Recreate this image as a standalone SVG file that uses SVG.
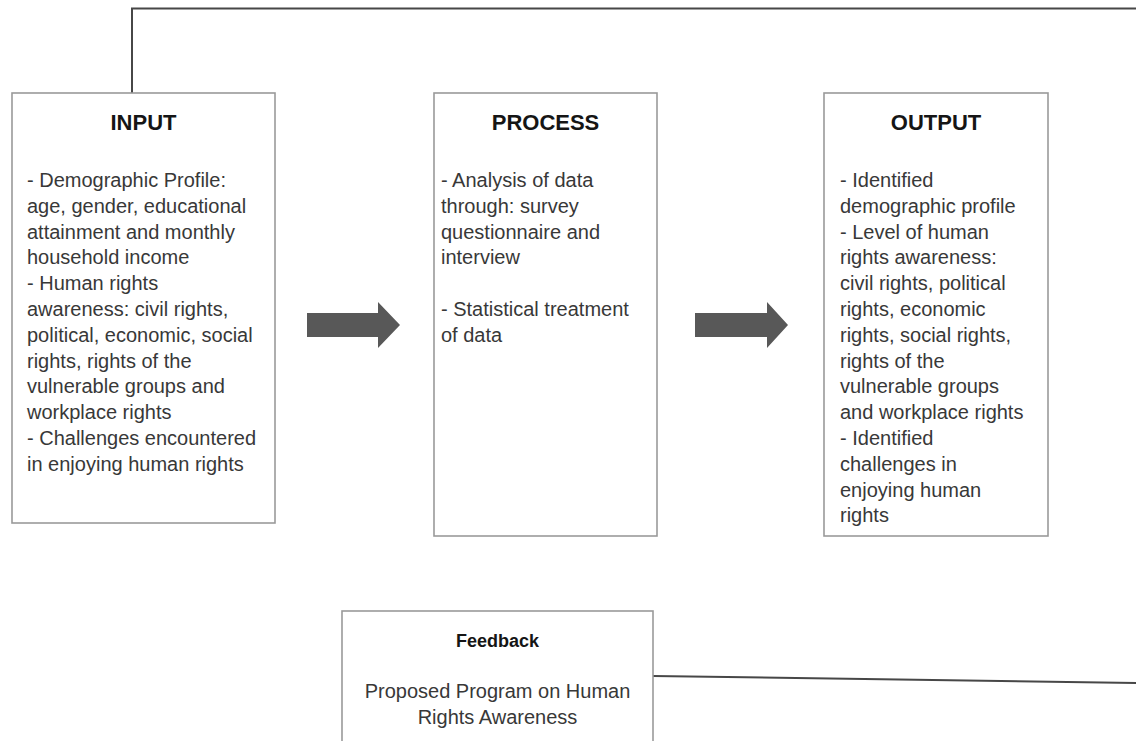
<svg xmlns="http://www.w3.org/2000/svg" width="1136" height="741" viewBox="0 0 1136 741">
<style>
.box{fill:#ffffff;stroke:#9a9a9a;stroke-width:1.6}
.title{font-family:"Liberation Sans",Arial,sans-serif;font-weight:bold;font-size:22px;fill:#151515;text-anchor:middle}
.body{font-family:"Liberation Sans",Arial,sans-serif;font-size:20px;fill:#383838}
.fbt{font-family:"Liberation Sans",Arial,sans-serif;font-weight:bold;font-size:18px;fill:#151515;text-anchor:middle}
.fbb{font-family:"Liberation Sans",Arial,sans-serif;font-size:20px;fill:#383838;text-anchor:middle}
.conn{fill:none;stroke:#474747;stroke-width:2}
.arrow{fill:#585858}
</style>
<rect width="1136" height="741" fill="#ffffff"/>
<g id="connectors">
<polyline class="conn" points="132,93 132,8.5 1136,8.5"/>
<line class="conn" x1="653" y1="676" x2="1136" y2="683"/>
<polygon class="arrow" points="307,313 378,313 378,302 400,325 378,348 378,337 307,337"/>
<polygon class="arrow" points="695,313 767,313 767,302 788,325 767,348 767,337 695,337"/>
</g>
<g id="input">
<rect class="box" x="12" y="93" width="263" height="430"/>
<text class="title" x="143.5" y="130">INPUT</text>
<text class="body">
<tspan x="27" y="187">- Demographic Profile:</tspan>
<tspan x="27" y="212.8">age, gender, educational</tspan>
<tspan x="27" y="238.6">attainment and monthly</tspan>
<tspan x="27" y="264.4">household income</tspan>
<tspan x="27" y="290.2">- Human rights</tspan>
<tspan x="27" y="316">awareness: civil rights,</tspan>
<tspan x="27" y="341.8">political, economic, social</tspan>
<tspan x="27" y="367.6">rights, rights of the</tspan>
<tspan x="27" y="393.4">vulnerable groups and</tspan>
<tspan x="27" y="419.2">workplace rights</tspan>
<tspan x="27" y="445">- Challenges encountered</tspan>
<tspan x="27" y="470.8">in enjoying human rights</tspan>
</text>
</g>
<g id="process">
<rect class="box" x="434" y="93" width="223" height="443"/>
<text class="title" x="545.5" y="130">PROCESS</text>
<text class="body">
<tspan x="441" y="187">- Analysis of data</tspan>
<tspan x="441" y="212.8">through: survey</tspan>
<tspan x="441" y="238.6">questionnaire and</tspan>
<tspan x="441" y="264.4">interview</tspan>
<tspan x="441" y="316">- Statistical treatment</tspan>
<tspan x="441" y="341.8">of data</tspan>
</text>
</g>
<g id="output">
<rect class="box" x="824" y="93" width="224" height="443"/>
<text class="title" x="936" y="130">OUTPUT</text>
<text class="body">
<tspan x="840" y="187">- Identified</tspan>
<tspan x="840" y="212.8">demographic profile</tspan>
<tspan x="840" y="238.6">- Level of human</tspan>
<tspan x="840" y="264.4">rights awareness:</tspan>
<tspan x="840" y="290.2">civil rights, political</tspan>
<tspan x="840" y="316">rights, economic</tspan>
<tspan x="840" y="341.8">rights, social rights,</tspan>
<tspan x="840" y="367.6">rights of the</tspan>
<tspan x="840" y="393.4">vulnerable groups</tspan>
<tspan x="840" y="419.2">and workplace rights</tspan>
<tspan x="840" y="445">- Identified</tspan>
<tspan x="840" y="470.8">challenges in</tspan>
<tspan x="840" y="496.6">enjoying human</tspan>
<tspan x="840" y="522.4">rights</tspan>
</text>
</g>
<g id="feedback">
<rect class="box" x="342" y="611" width="311" height="140"/>
<text class="fbt" x="497.5" y="647">Feedback</text>
<text class="fbb" x="497.5" y="698">Proposed Program on Human</text>
<text class="fbb" x="497.5" y="724">Rights Awareness</text>
</g>
</svg>
